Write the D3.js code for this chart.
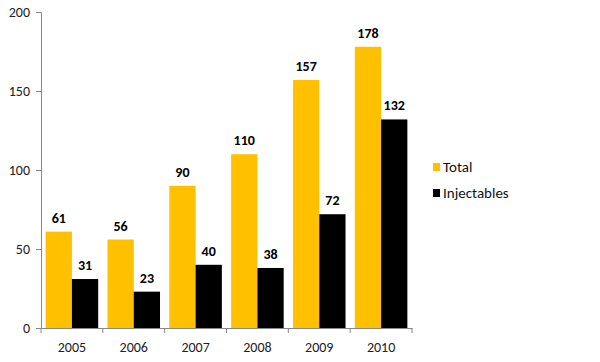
<!DOCTYPE html>
<html>
<head>
<meta charset="utf-8">
<script src="https://cdn.jsdelivr.net/npm/d3@7"></script>
<style>
  body { margin: 0; background: #fff; }
  text { font-family: Calibri, Carlito, "Open Sans", sans-serif; }
</style>
</head>
<body>
<svg id="chart" width="600" height="362"></svg>
<script>
const years = ['2005', '2006', '2007', '2008', '2009', '2010'];
const total = [61, 56, 90, 110, 157, 178];
const injectables = [31, 23, 40, 38, 72, 132];
const yTicks = [0, 50, 100, 150, 200];
const seriesNames = ['Total', 'Injectables'];
const seriesColors = ['#FFC000', '#000000'];

const svg = d3.select('#chart');
const fontStack = 'Calibri, Carlito, "Open Sans", sans-serif';

let x = d3.scaleBand().domain(years).range([41, 412]).paddingInner(0.15).paddingOuter(0.075);
let y = d3.scaleLinear().domain([0, 200]).range([328, 12]);
let xs = d3.scaleBand().domain(seriesNames).range([0, x.bandwidth()]);

// y axis
let yAxis = svg.append('g').attr('transform', 'translate(41,0)')
  .call(d3.axisLeft(y).tickValues(yTicks).tickSize(5).tickPadding(6));
yAxis.select('.domain').attr('stroke', '#888');
yAxis.selectAll('.tick line').attr('stroke', '#888');
yAxis.selectAll('text').attr('font-size', 14).attr('fill', '#222').style('font-family', fontStack);

// bars
let data = years.map((yr, i) => ({ year: yr, values: [total[i], injectables[i]] }));
let groups = svg.selectAll('g.grp').data(data).join('g').classed('grp', true)
  .attr('transform', d => `translate(${x(d.year)},0)`);

groups.selectAll('rect').data(d => d.values.map((v, j) => ({ v, name: seriesNames[j], color: seriesColors[j] })))
  .join('rect')
  .attr('x', d => xs(d.name))
  .attr('y', d => y(d.v))
  .attr('width', xs.bandwidth())
  .attr('height', d => y(0) - y(d.v))
  .attr('fill', d => d.color);

groups.selectAll('text.lbl').data(d => d.values.map((v, j) => ({ v, name: seriesNames[j] })))
  .join('text').classed('lbl', true)
  .attr('x', d => xs(d.name) + xs.bandwidth() / 2)
  .attr('y', d => y(d.v) - 9)
  .attr('text-anchor', 'middle')
  .attr('font-size', 14)
  .attr('font-weight', 'bold')
  .attr('fill', '#000')
  .text(d => d.v);

// x axis
let xAxis = svg.append('g').attr('transform', `translate(0,${y(0)})`)
  .call(d3.axisBottom(x).tickSize(0).tickPadding(14));
xAxis.select('.domain').attr('stroke', '#888');
xAxis.selectAll('text').attr('font-size', 14).attr('fill', '#222').style('font-family', fontStack);
// tick marks between categories
let bounds = years.map(yr => x(yr) - x.step() * x.paddingInner() / 2).concat([412]);
bounds[0] = 41;
svg.append('g').selectAll('line').data(bounds).join('line')
  .attr('x1', d => d).attr('x2', d => d)
  .attr('y1', y(0)).attr('y2', y(0) + 5)
  .attr('stroke', '#888');

// legend
let legend = svg.append('g').attr('transform', 'translate(433,160)');
let items = legend.selectAll('g').data(seriesNames).join('g')
  .attr('transform', (d, i) => `translate(0,${i * 26})`);
items.append('rect').attr('x', 0).attr('y', 3).attr('width', 7).attr('height', 8)
  .attr('fill', (d, i) => seriesColors[i]);
items.append('text').attr('x', 10).attr('y', 12).attr('font-size', 15).attr('fill', '#111').text(d => d);
</script>
</body>
</html>
